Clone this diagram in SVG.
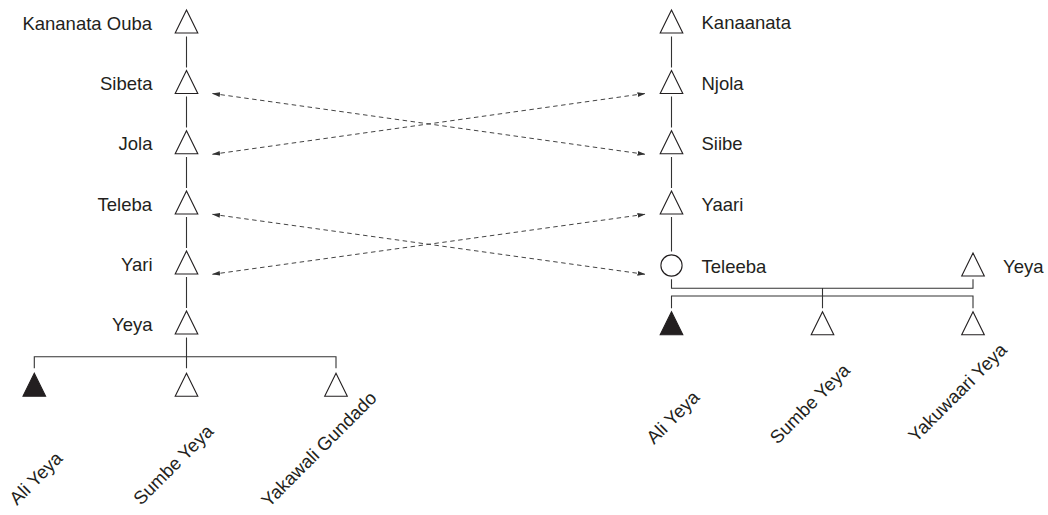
<svg xmlns="http://www.w3.org/2000/svg" width="1048" height="515" viewBox="0 0 1048 515">
<style>
text{font-family:"Liberation Sans",Arial,sans-serif;font-size:18.5px;fill:#231f20}
.tri{fill:#fff;stroke:#231f20;stroke-width:1.1}
.fill{fill:#231f20;stroke:#231f20;stroke-width:1.1}
.ln{stroke:#333;stroke-width:1.1;fill:none}
.dash{stroke:#444;stroke-width:1;fill:none;stroke-dasharray:4.5,3.5;marker-start:url(#ah);marker-end:url(#ah)}
.e{text-anchor:end}
</style>
<defs>
<marker id="ah" viewBox="0 0 8 6" refX="7.5" refY="3" markerWidth="8" markerHeight="6" markerUnits="userSpaceOnUse" orient="auto-start-reverse">
<path d="M0,0.6 L8,3 L0,5.4 Z" fill="#333"/>
</marker>
<path id="t" d="M0,0 L11.3,23 L-11.3,23 Z"/>
</defs>
<rect width="1048" height="515" fill="#fff"/>
<g id="connectors">
<path class="ln" d="M186.5,36.5V67.5 M186.5,96.5V127.5 M186.5,157V188 M186.5,217V248 M186.5,277V308 M186.5,337.5V368.3"/>
<path class="ln" d="M34.3,368.3V356.7H336V368.3"/>
<path class="ln" d="M671.5,36.5V67.5 M671.5,96.5V127.5 M671.5,157V188 M671.5,217V251.5"/>
<path class="ln" d="M671.5,279.3V288.3H973V279.3 M822.5,288.3V308.3 M671.5,308.3V296H973V308.3"/>
<path class="dash" d="M212.5,93.5L645,154.3"/>
<path class="dash" d="M212.5,154.3L645,93.5"/>
<path class="dash" d="M212.5,214.3L645,274.3"/>
<path class="dash" d="M212.5,274.3L645,214.3"/>
</g>
<g id="n-kananata-ouba"><use href="#t" class="tri" x="186.5" y="10"/><text class="e" x="152" y="29.5">Kananata Ouba</text></g>
<g id="n-sibeta"><use href="#t" class="tri" x="186.5" y="70.5"/><text class="e" x="152.5" y="90">Sibeta</text></g>
<g id="n-jola"><use href="#t" class="tri" x="186.5" y="130.7"/><text class="e" x="152.5" y="150.3">Jola</text></g>
<g id="n-teleba"><use href="#t" class="tri" x="186.5" y="191"/><text class="e" x="152" y="210.5">Teleba</text></g>
<g id="n-yari"><use href="#t" class="tri" x="186.5" y="251"/><text class="e" x="152.5" y="270.5">Yari</text></g>
<g id="n-yeya-left"><use href="#t" class="tri" x="186.5" y="311"/><text class="e" x="152.5" y="330.5">Yeya</text></g>
<g id="n-ali-yeya-left"><use href="#t" class="fill" x="34.3" y="373.3"/><text transform="translate(17,506) rotate(-45)">Ali Yeya</text></g>
<g id="n-sumbe-yeya-left"><use href="#t" class="tri" x="186.5" y="373.3"/><text transform="translate(141,506) rotate(-45)">Sumbe Yeya</text></g>
<g id="n-yakawali-gundado"><use href="#t" class="tri" x="336" y="373.3"/><text transform="translate(269,508) rotate(-45)">Yakawali Gundado</text></g>
<g id="n-kanaanata"><use href="#t" class="tri" x="671.5" y="10"/><text x="701.5" y="28.8">Kanaanata</text></g>
<g id="n-njola"><use href="#t" class="tri" x="671.5" y="70.5"/><text x="701.5" y="90">Njola</text></g>
<g id="n-siibe"><use href="#t" class="tri" x="671.5" y="130.7"/><text x="701.5" y="150.3">Siibe</text></g>
<g id="n-yaari"><use href="#t" class="tri" x="671.5" y="191"/><text x="701.5" y="210.5">Yaari</text></g>
<g id="n-teleeba"><circle class="tri" cx="671.5" cy="265.5" r="10.6"/><text x="701.5" y="273">Teleeba</text></g>
<g id="n-yeya-right"><use href="#t" class="tri" x="973" y="253"/><text x="1003" y="272.5">Yeya</text></g>
<g id="n-ali-yeya-right"><use href="#t" class="fill" x="671.5" y="311.7"/><text transform="translate(654,445) rotate(-45)">Ali Yeya</text></g>
<g id="n-sumbe-yeya-right"><use href="#t" class="tri" x="822.5" y="311.7"/><text transform="translate(777.5,445) rotate(-45)">Sumbe Yeya</text></g>
<g id="n-yakuwaari-yeya"><use href="#t" class="tri" x="973" y="311.7"/><text transform="translate(916,443) rotate(-45)">Yakuwaari Yeya</text></g>
</svg>
